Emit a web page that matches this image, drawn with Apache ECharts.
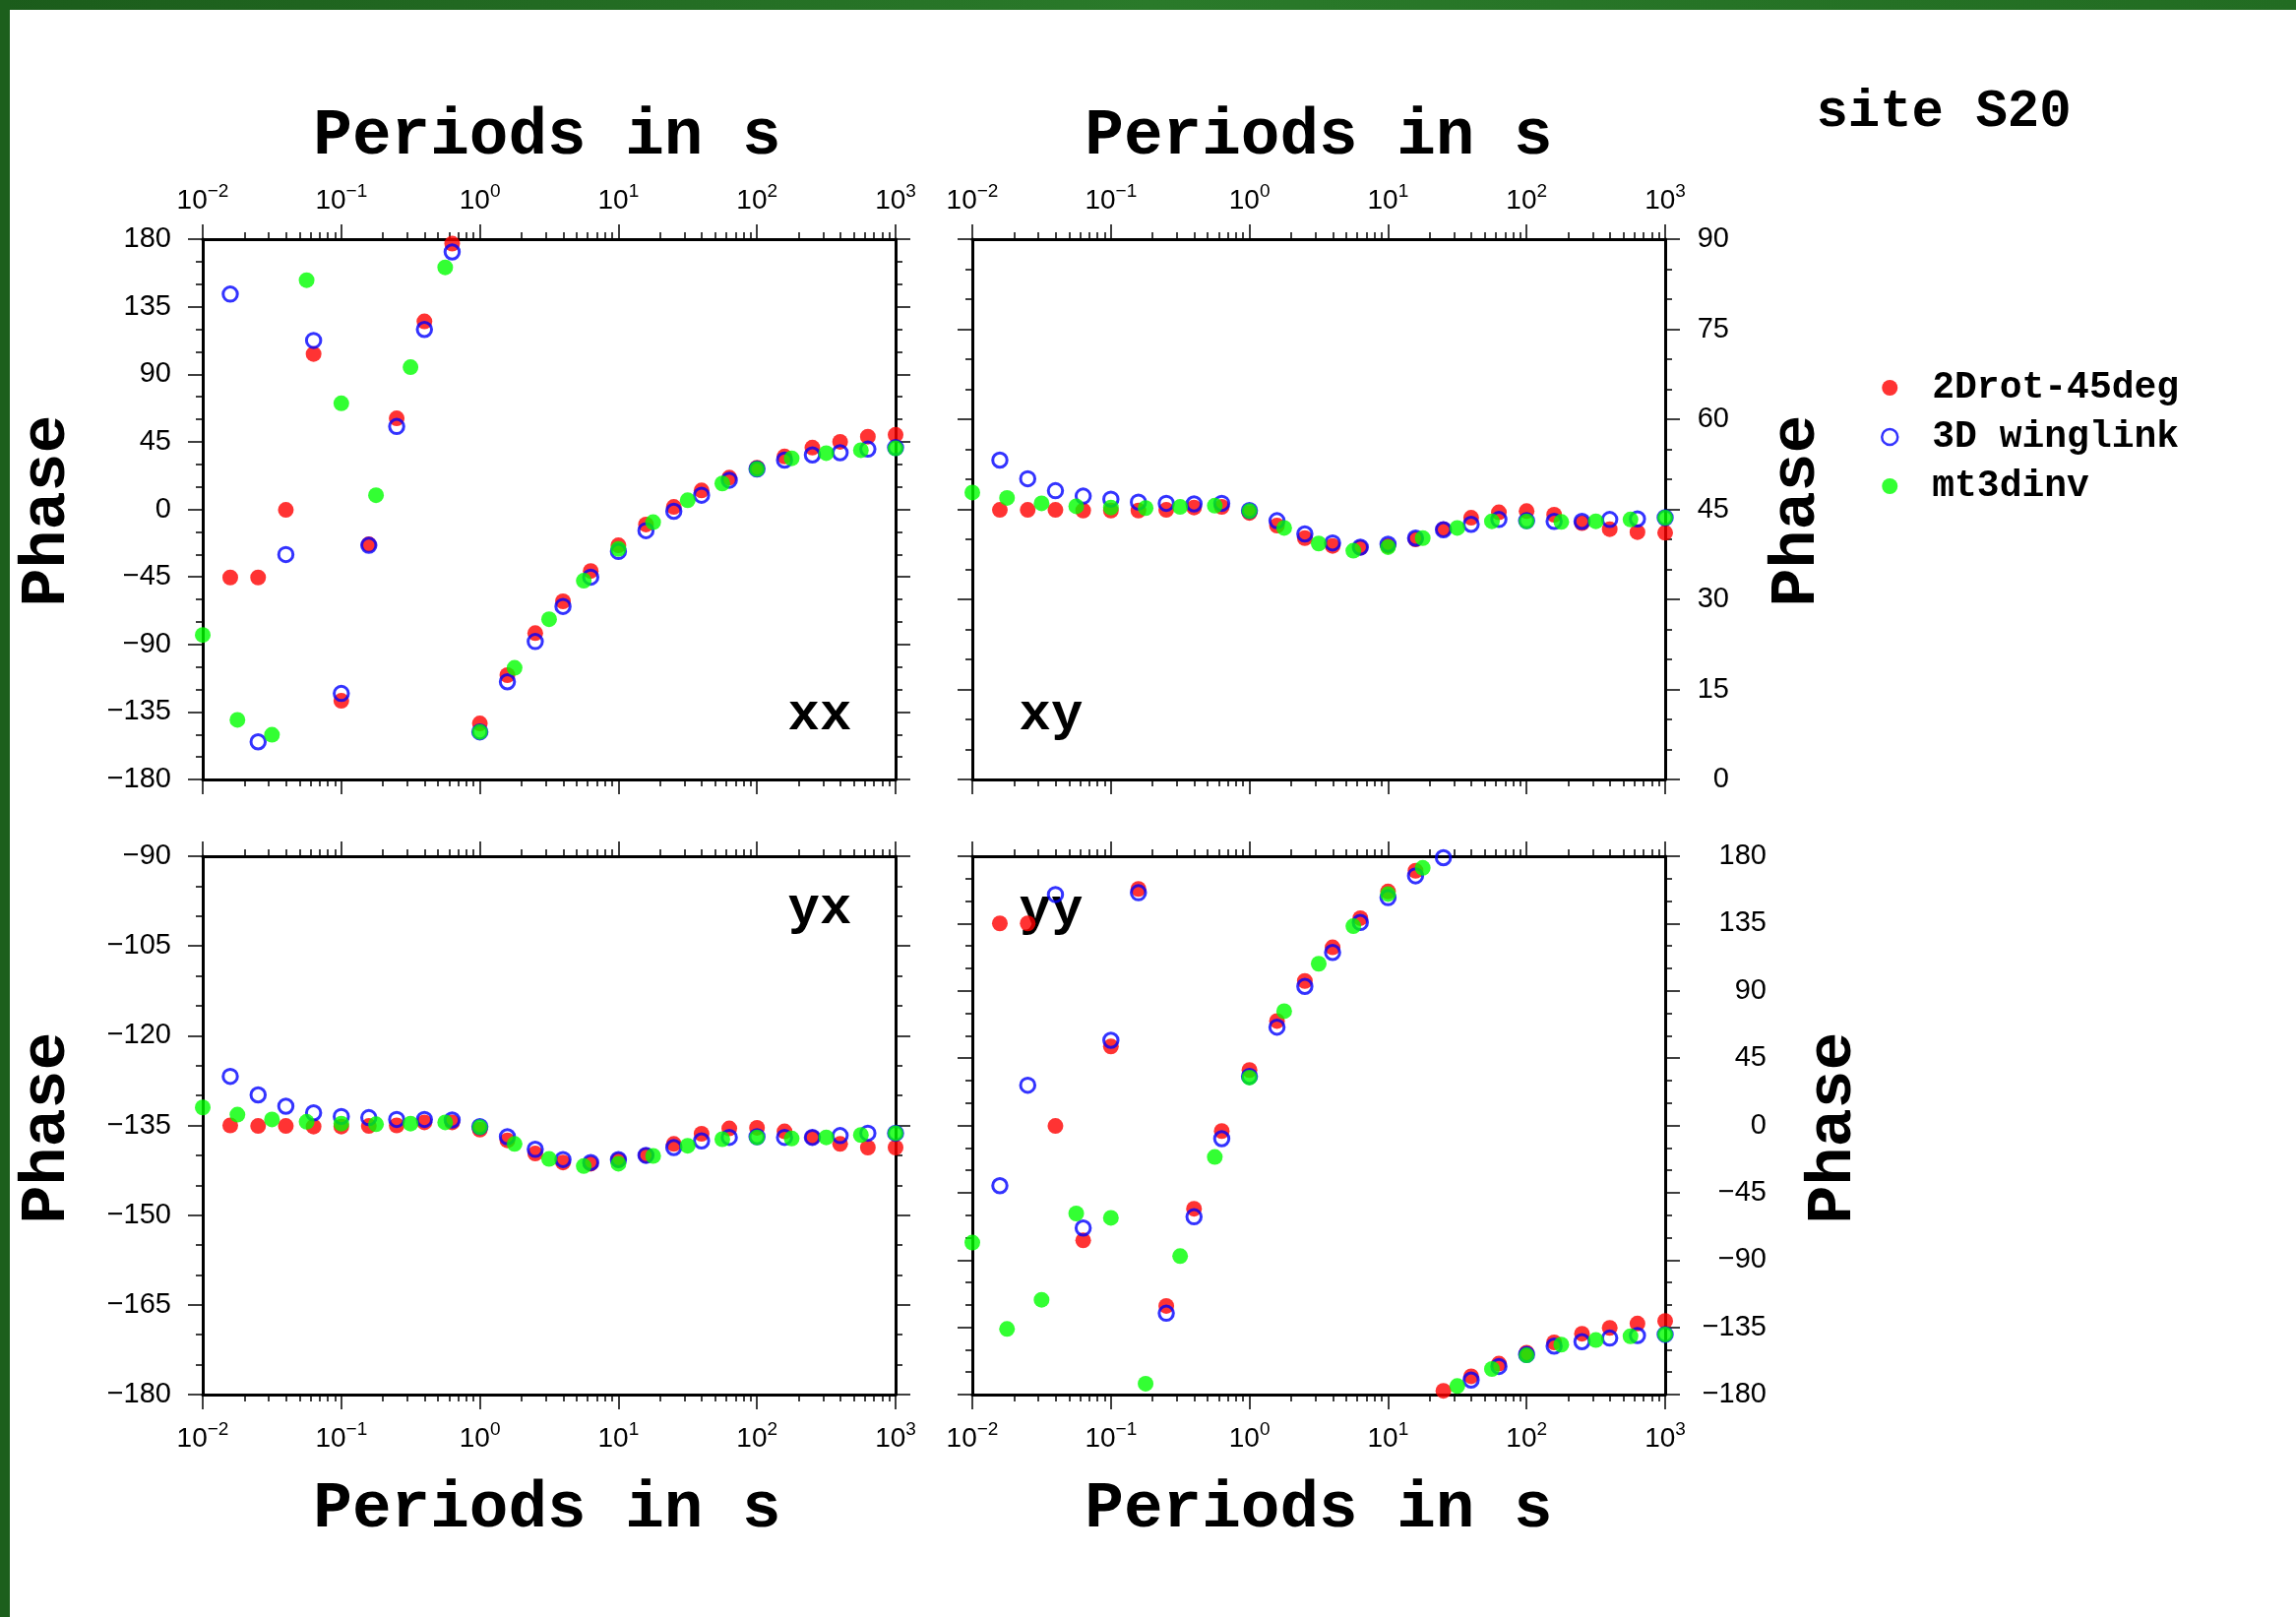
<!DOCTYPE html>
<html>
<head>
<meta charset="utf-8">
<title>site S20 phases</title>
<script src="https://cdn.jsdelivr.net/npm/echarts@6/dist/echarts.min.js"></script>
<style>
  html, body { margin: 0; padding: 0; background: #ffffff; }
  #chart { width: 2333px; height: 1643px; }
</style>
</head>
<body>
<div id="chart"></div>
<script>
// Impedance phases (degrees) of site S20 for three models, four tensor components.
const SERIES_NAMES = ['2Drot-45deg', '3D winglink', 'mt3dinv'];
const COMPONENTS = ['xx', 'xy', 'yx', 'yy'];

// Periods in seconds (5 per decade for 2Drot-45deg and 3D winglink, 4 per decade for mt3dinv)
const PERIODS_MODEL = [0.0158, 0.0251, 0.0398, 0.0631, 0.1, 0.158, 0.251, 0.398, 0.631, 1,
  1.58, 2.51, 3.98, 6.31, 10, 15.8, 25.1, 39.8, 63.1, 100, 158, 251, 398, 631, 1000];
const PERIODS_MT3D = [0.01, 0.0178, 0.0316, 0.0562, 0.1, 0.178, 0.316, 0.562, 1,
  1.78, 3.16, 5.62, 10, 17.8, 31.6, 56.2, 100, 178, 316, 562, 1000];

// Phase xx
const XX_2DROT = [-45.4, -45.4, -0.4, 103.5, -127.6, -23.3, 60.6, 125.2, 177.0, -142.7, -110.5, -82.5,
  -61.3, -41.1, -24.0, -10.1, 1.6, 12.6, 21.1, 27.7, 35.2, 41.1, 45.0, 48.4, 49.6];
const XX_WINGLINK = [143.4, -154.9, -30.1, 112.5, -122.7, -24.0, 55.2, 119.8, 171.5, -148.3, -114.9, -88.1,
  -64.7, -45.2, -28.1, -14.2, -1.3, 9.4, 19.4, 26.9, 32.8, 36.2, 37.7, 40.1, 41.1];
const XX_MT3DINV = [-83.7, -140.3, -150.2, 152.7, 70.6, 9.4, 94.7, 161.2, -148.3, -105.6, -73.2,
  -47.6, -26.4, -8.6, 6.0, 17.2, 26.9, 34.0, 37.4, 39.4, 40.6];

// Phase xy
const XY_2DROT = [44.9, 44.9, 44.9, 44.8, 44.8, 44.8, 44.9, 45.3, 45.4, 44.4, 42.3, 40.2, 38.9,
  38.6, 38.9, 40.0, 41.7, 43.6, 44.5, 44.7, 44.1, 42.7, 41.7, 41.2, 41.1];
const XY_WINGLINK = [53.2, 50.1, 48.1, 47.2, 46.7, 46.2, 46.0, 45.9, 46.0, 44.8, 43.1, 40.9, 39.4,
  38.7, 39.2, 40.2, 41.6, 42.5, 43.3, 43.1, 43.0, 43.0, 43.3, 43.4, 43.6];
const XY_MT3DINV = [47.8, 46.9, 46.0, 45.5, 45.3, 45.2, 45.4, 45.6, 44.7, 41.9, 39.3, 38.1, 38.7,
  40.2, 41.9, 43.0, 43.0, 42.9, 43.0, 43.3, 43.6];

// Phase yx
const YX_2DROT = [-135.0, -135.1, -135.1, -135.2, -135.2, -135.1, -135.0, -134.5, -134.5, -135.7,
  -137.5, -139.7, -141.2, -141.4, -140.8, -140.0, -138.1, -136.4, -135.5, -135.4, -136.0, -137.0,
  -138.1, -138.7, -138.7];
const YX_WINGLINK = [-126.8, -129.9, -131.8, -132.9, -133.5, -133.7, -134.0, -134.0, -134.1, -135.2,
  -136.9, -139.0, -140.7, -141.2, -140.7, -140.0, -138.7, -137.6, -137.0, -136.9, -137.0, -137.0,
  -136.7, -136.3, -136.3];
const YX_MT3DINV = [-132.0, -133.2, -134.0, -134.4, -134.7, -134.8, -134.7, -134.5, -135.3, -138.1,
  -140.6, -141.8, -141.4, -140.1, -138.4, -137.3, -137.0, -137.2, -137.0, -136.6, -136.3];

// Phase yy
const YY_2DROT = [135.1, 135.1, -0.4, -76.9, 52.8, 158.1, -120.7, -55.7, -3.8, 37.0, 69.8, 96.6,
  119.1, 138.6, 156.4, 170.3, -177.5, -167.8, -159.3, -152.0, -145.1, -139.3, -135.4, -132.5, -130.8];
const YY_WINGLINK = [-40.3, 26.9, 154.4, -68.6, 56.9, 155.6, -125.6, -61.1, -8.9, 32.8, 65.7, 93.0,
  115.7, 135.7, 152.3, 166.9, 179.0, -170.3, -161.2, -153.2, -147.6, -144.6, -142.2, -140.5, -139.8];
const YY_MT3DINV = [-78.4, -136.1, -116.6, -58.9, -61.8, -172.7, -87.4, -21.1, 32.0, 76.4, 108.1,
  133.2, 154.7, 172.2, -174.3, -162.9, -153.7, -146.6, -143.5, -141.0, -139.8];

// Phase axis ranges [min, max, labelled step]
const RANGE_XX = [-180, 180, 45];
const RANGE_XY = [0, 90, 15];
const RANGE_YX = [-180, -90, 15];
const RANGE_YY = [-180, 180, 45];

const FONT_MONO = '"Liberation Mono", "DejaVu Sans Mono", monospace';
const FONT_SANS = '"Liberation Sans", Arial, Helvetica, sans-serif';
const INK = '#000000';
const COLORS = { red: '#ff0000', blue: '#0000ff', green: '#00ff00' };

const panels = [
  { grid: { left: 206, top: 243, width: 704, height: 549 }, xSide: 'top', ySide: 'left',
    range: RANGE_XX, values: [XX_2DROT, XX_WINGLINK, XX_MT3DINV], yMargin: 32 },
  { grid: { left: 988, top: 243, width: 704, height: 549 }, xSide: 'top', ySide: 'right',
    range: RANGE_XY, values: [XY_2DROT, XY_WINGLINK, XY_MT3DINV], yMargin: 65 },
  { grid: { left: 206, top: 870, width: 704, height: 547 }, xSide: 'bottom', ySide: 'left',
    range: RANGE_YX, values: [YX_2DROT, YX_WINGLINK, YX_MT3DINV], yMargin: 32 },
  { grid: { left: 988, top: 870, width: 704, height: 547 }, xSide: 'bottom', ySide: 'right',
    range: RANGE_YY, values: [YY_2DROT, YY_WINGLINK, YY_MT3DINV], yMargin: 103 }
];

const frameLine = { show: true, onZero: false, lineStyle: { color: INK, width: 3 } };
const majorTick = { show: true, inside: false, length: 15, lineStyle: { color: INK, width: 1.5 } };
const minorTickStyle = { show: true, length: 7, lineStyle: { color: INK, width: 1.5 } };

function periodLabel(v) {
  const e = Math.round(Math.log10(v));
  return '{m|10}{e|' + (e < 0 ? '\u2212' + (-e) : String(e)) + '}';
}
function phaseLabel(v) {
  return v < 0 ? '\u2212' + Math.abs(v) : String(v);
}

const xAxes = [];
const yAxes = [];
const series = [];

panels.forEach(function (p, g) {
  ['top', 'bottom'].forEach(function (side) {
    const labelled = side === p.xSide;
    xAxes.push({
      type: 'log', logBase: 10, gridIndex: g, position: side, min: 0.01, max: 1000,
      axisLine: frameLine, axisTick: majorTick,
      minorTick: Object.assign({ splitNumber: 9 }, minorTickStyle),
      splitLine: { show: false }, minorSplitLine: { show: false },
      axisLabel: {
        show: labelled, margin: side === 'top' ? 25 : 26, formatter: periodLabel,
        showMinLabel: true, showMaxLabel: true, hideOverlap: false,
        rich: {
          m: { fontFamily: FONT_SANS, fontSize: 28, color: INK, lineHeight: 33, verticalAlign: 'bottom' },
          e: { fontFamily: FONT_SANS, fontSize: 19, color: INK, lineHeight: 21, verticalAlign: 'top' }
        }
      }
    });
  });
  ['left', 'right'].forEach(function (side) {
    const labelled = side === p.ySide;
    yAxes.push({
      type: 'value', gridIndex: g, position: side,
      min: p.range[0], max: p.range[1], interval: p.range[2],
      axisLine: frameLine, axisTick: majorTick,
      minorTick: Object.assign({ splitNumber: 3 }, minorTickStyle),
      splitLine: { show: false }, minorSplitLine: { show: false },
      axisLabel: {
        show: labelled, margin: p.yMargin, formatter: phaseLabel, align: 'right',
        fontFamily: FONT_SANS, fontSize: 29, color: INK,
        showMinLabel: true, showMaxLabel: true
      }
    });
  });

  const ax = g * 2;
  series.push({
    type: 'scatter', name: SERIES_NAMES[0], xAxisIndex: ax, yAxisIndex: ax,
    data: PERIODS_MODEL.map(function (t, i) { return [t, p.values[0][i]]; }),
    symbol: 'circle', symbolSize: 16, clip: true, silent: true,
    itemStyle: { color: COLORS.red }
  });
  series.push({
    type: 'scatter', name: SERIES_NAMES[1], xAxisIndex: ax, yAxisIndex: ax,
    data: PERIODS_MODEL.map(function (t, i) { return [t, p.values[1][i]]; }),
    symbol: 'circle', symbolSize: 14.5, clip: true, silent: true,
    itemStyle: { color: 'rgba(0,0,0,0)', borderColor: COLORS.blue, borderWidth: 3 }
  });
  series.push({
    type: 'scatter', name: SERIES_NAMES[2], xAxisIndex: ax, yAxisIndex: ax,
    data: PERIODS_MT3D.map(function (t, i) { return [t, p.values[2][i]]; }),
    symbol: 'circle', symbolSize: 16, clip: true, silent: true,
    itemStyle: { color: COLORS.green }
  });
});

function bigText(text, x, y, size, rotation) {
  return {
    type: 'text', x: x, y: y, rotation: rotation || 0, z: 1, silent: true,
    style: {
      text: text, fill: INK, font: 'bold ' + size + 'px ' + FONT_MONO,
      align: 'center', verticalAlign: 'middle'
    }
  };
}

const graphics = [
  // frame border along the top and left edges
  { type: 'rect', shape: { x: 0, y: 0, width: 2333, height: 10 }, silent: true,
    style: { fill: new echarts.graphic.LinearGradient(0, 0, 1, 0, [
      { offset: 0, color: '#1b5c1b' }, { offset: 0.5, color: '#2a7a2a' }, { offset: 1, color: '#226c22' }]) } },
  { type: 'rect', shape: { x: 0, y: 0, width: 10, height: 1643 }, silent: true,
    style: { fill: '#1c5f1c' } },
  bigText('Periods in s', 556, 139, 66),
  bigText('Periods in s', 1340, 139, 66),
  bigText('Periods in s', 556, 1534, 66),
  bigText('Periods in s', 1340, 1534, 66),
  bigText('Phase', 49, 519, 65, Math.PI / 2),
  bigText('Phase', 49, 1146, 65, Math.PI / 2),
  bigText('Phase', 1827, 519, 65, Math.PI / 2),
  bigText('Phase', 1864, 1146, 65, Math.PI / 2),
  bigText('site S20', 1975, 114, 54),
  bigText(COMPONENTS[0], 833, 727, 54),
  bigText(COMPONENTS[1], 1068, 727, 54),
  bigText(COMPONENTS[2], 833, 924, 54),
  bigText(COMPONENTS[3], 1068, 925, 54)
];

const chart = echarts.init(document.getElementById('chart'), null, { renderer: 'canvas' });
chart.setOption({
  backgroundColor: '#ffffff',
  animation: false,
  grid: panels.map(function (p) { return Object.assign({ containLabel: false }, p.grid); }),
  xAxis: xAxes,
  yAxis: yAxes,
  legend: {
    orient: 'vertical', left: 1906, top: 370, itemWidth: 16, itemHeight: 16, itemGap: 12,
    selectedMode: false,
    textStyle: { fontFamily: FONT_MONO, fontWeight: 'bold', fontSize: 38, color: INK, padding: [0, 0, 0, 30] },
    data: [
      { name: SERIES_NAMES[0], icon: 'circle', itemStyle: { color: COLORS.red } },
      { name: SERIES_NAMES[1], icon: 'circle',
        itemStyle: { color: 'rgba(0,0,0,0)', borderColor: COLORS.blue, borderWidth: 2.5 } },
      { name: SERIES_NAMES[2], icon: 'circle', itemStyle: { color: COLORS.green } }
    ]
  },
  graphic: graphics,
  series: series
});
</script>
</body>
</html>
